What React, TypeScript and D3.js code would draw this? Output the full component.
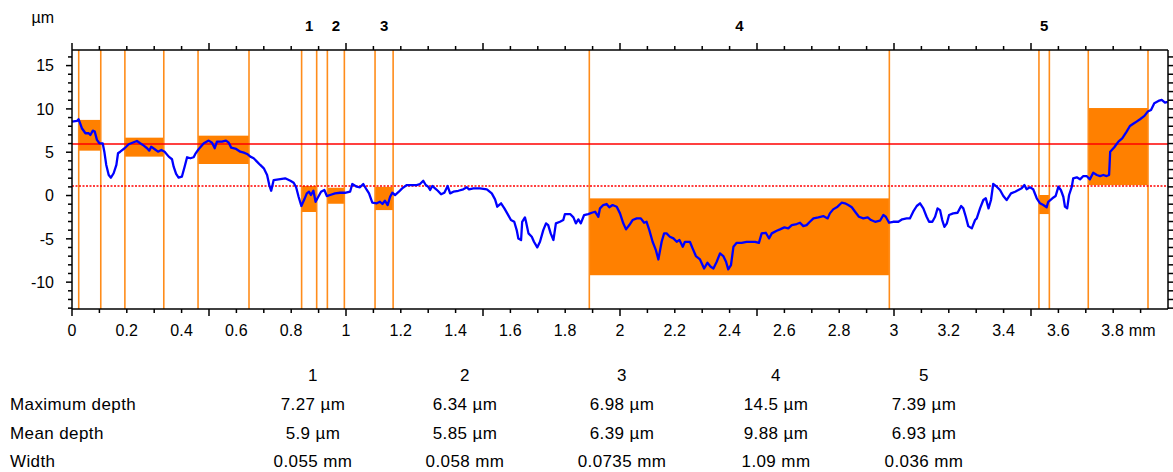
import React, { useEffect, useRef } from 'react';
import * as d3 from 'd3';

// profile: [position (mm), height (µm)]
const profile: [number, number][] = [
  [0,8.53],[0.018,8.61],[0.024,8.81],[0.036,7.77],[0.049,7.19],[0.061,7.19],[0.067,6.99],[0.076,7.49],[0.083,7.38],[0.091,6.42],
  [0.100,6.03],[0.112,6.03],[0.118,5.06],[0.125,3.53],[0.134,2.37],[0.142,2.06],[0.152,2.57],[0.162,3.53],[0.168,4.88],[0.176,5.06],
  [0.192,5.46],[0.207,5.92],[0.225,6.15],[0.237,6.30],[0.249,6.03],[0.262,5.76],[0.274,5.46],[0.282,5.18],[0.289,5.64],[0.302,5.34],
  [0.314,5.06],[0.326,5.26],[0.338,5.06],[0.353,4.49],[0.365,4.19],[0.371,3.33],[0.380,2.49],[0.389,2.06],[0.401,2.17],[0.411,3.33],
  [0.420,4.42],[0.432,4.30],[0.444,4.42],[0.450,4.80],[0.462,5.34],[0.481,6.03],[0.499,6.34],[0.511,6.10],[0.521,5.46],[0.529,6.22],
  [0.547,6.22],[0.562,6.34],[0.572,6.10],[0.581,5.53],[0.599,5.38],[0.614,5.06],[0.627,4.95],[0.639,4.80],[0.651,4.49],[0.663,4.30],
  [0.675,3.91],[0.687,3.53],[0.700,3.14],[0.712,2.37],[0.720,1.21],[0.727,0.55],[0.736,1.79],[0.754,1.87],[0.778,1.99],[0.797,1.71],
  [0.809,1.48],[0.818,0.95],[0.827,-0.14],[0.837,-1.21],[0.848,-0.44],[0.857,0.25],[0.865,0.44],[0.872,0.06],[0.881,0.55],[0.889,-0.72],
  [0.899,-0.14],[0.909,0.44],[0.921,0.64],[0.930,-0.06],[0.942,0.06],[0.960,0.25],[0.978,0.32],[0.996,0.32],[1.015,0.44],[1.023,1.33],
  [1.039,1.02],[1.051,0.95],[1.063,1.33],[1.076,0.64],[1.084,0.25],[1.096,-0.83],[1.112,-0.90],[1.124,-0.72],[1.133,-0.98],[1.142,-0.60],
  [1.152,-1.10],[1.161,-0.14],[1.169,0.32],[1.179,0.06],[1.193,0.44],[1.205,0.83],[1.222,1.21],[1.240,1.21],[1.258,1.21],[1.270,1.33],
  [1.282,1.71],[1.291,1.21],[1.300,1.02],[1.307,0.64],[1.315,1.10],[1.325,0.83],[1.335,0.55],[1.347,0.14],[1.359,0.32],[1.371,1.10],
  [1.380,0.25],[1.392,0.44],[1.410,0.55],[1.428,0.72],[1.441,0.95],[1.449,0.72],[1.465,0.83],[1.489,0.83],[1.514,0.72],[1.532,0.25],
  [1.544,-0.44],[1.552,-1.29],[1.566,-0.90],[1.578,-1.48],[1.590,-2.14],[1.602,-2.83],[1.614,-3.03],[1.623,-3.99],[1.629,-4.95],[1.639,-5.14],
  [1.643,-3.03],[1.653,-2.52],[1.657,-3.03],[1.666,-4.37],[1.678,-4.76],[1.686,-5.34],[1.698,-5.99],[1.708,-5.34],[1.720,-3.99],[1.730,-3.21],
  [1.738,-3.41],[1.747,-4.37],[1.757,-5.14],[1.766,-3.21],[1.781,-3.03],[1.793,-2.83],[1.799,-2.14],[1.818,-2.14],[1.830,-2.52],[1.839,-3.21],
  [1.848,-2.75],[1.857,-3.21],[1.869,-2.25],[1.884,-2.14],[1.897,-1.99],[1.909,-1.87],[1.921,-2.45],[1.927,-1.48],[1.939,-1.10],[1.951,-0.98],
  [1.961,-1.36],[1.973,-1.10],[1.988,-1.29],[2.000,-2.06],[2.012,-3.21],[2.022,-3.91],[2.034,-3.41],[2.046,-2.83],[2.061,-2.64],[2.076,-2.64],
  [2.088,-3.14],[2.097,-3.03],[2.107,-3.99],[2.119,-5.34],[2.131,-6.30],[2.140,-7.38],[2.152,-5.34],[2.161,-4.37],[2.170,-4.37],[2.182,-4.76],
  [2.195,-4.95],[2.207,-5.34],[2.217,-5.14],[2.229,-5.92],[2.237,-5.34],[2.255,-5.34],[2.265,-6.10],[2.277,-6.99],[2.292,-7.38],[2.307,-8.42],
  [2.319,-7.77],[2.331,-8.23],[2.341,-8.42],[2.353,-7.65],[2.365,-6.68],[2.377,-6.99],[2.387,-7.65],[2.395,-8.53],[2.405,-8.03],[2.414,-5.92],
  [2.426,-5.46],[2.444,-5.46],[2.462,-5.34],[2.474,-5.34],[2.493,-5.34],[2.507,-5.46],[2.517,-4.37],[2.532,-4.30],[2.544,-4.95],[2.554,-4.37],
  [2.572,-4.07],[2.584,-3.91],[2.600,-3.68],[2.614,-3.79],[2.627,-3.41],[2.645,-3.29],[2.657,-3.14],[2.669,-3.53],[2.681,-3.41],[2.693,-3.03],
  [2.706,-2.64],[2.724,-2.52],[2.742,-2.37],[2.758,-2.64],[2.766,-2.06],[2.778,-1.60],[2.794,-1.29],[2.809,-0.83],[2.821,-0.90],[2.833,-1.10],
  [2.846,-1.36],[2.858,-1.87],[2.872,-2.45],[2.888,-2.64],[2.904,-2.52],[2.916,-2.83],[2.931,-3.03],[2.949,-2.91],[2.961,-2.25],[2.970,-2.45],
  [2.982,-3.14],[2.997,-3.03],[3.016,-3.03],[3.030,-2.75],[3.046,-2.64],[3.058,-2.64],[3.070,-1.87],[3.083,-1.21],[3.095,-0.90],[3.107,-1.48],
  [3.119,-2.45],[3.128,-3.03],[3.140,-3.03],[3.150,-2.45],[3.159,-1.48],[3.168,-1.68],[3.176,-2.83],[3.184,-3.61],[3.193,-3.21],[3.201,-2.25],
  [3.216,-2.06],[3.232,-1.99],[3.245,-1.21],[3.253,-1.48],[3.262,-2.45],[3.271,-3.53],[3.284,-3.79],[3.296,-2.83],[3.302,-2.64],[3.314,-1.48],
  [3.326,-0.52],[3.335,-0.32],[3.345,-1.48],[3.354,-0.52],[3.362,1.33],[3.375,1.02],[3.387,0.64],[3.399,-0.06],[3.411,-0.52],[3.427,0.25],
  [3.442,0.44],[3.454,0.64],[3.466,0.83],[3.476,1.21],[3.484,0.72],[3.496,0.95],[3.508,0.72],[3.521,-0.32],[3.533,-0.90],[3.545,-1.10],
  [3.557,-1.36],[3.563,-0.72],[3.578,-0.32],[3.590,-0.06],[3.600,1.02],[3.609,0.64],[3.618,-0.14],[3.624,-1.29],[3.632,-1.48],[3.639,0.06],
  [3.649,1.02],[3.654,1.99],[3.667,2.10],[3.679,1.87],[3.691,2.25],[3.703,2.25],[3.715,1.87],[3.727,2.64],[3.740,2.37],[3.752,2.25],
  [3.764,2.37],[3.776,2.25],[3.785,2.37],[3.789,5.06],[3.804,5.57],[3.819,6.22],[3.833,6.61],[3.849,7.38],[3.861,8.03],[3.880,8.42],
  [3.898,8.81],[3.914,9.19],[3.926,9.69],[3.938,9.88],[3.950,10.66],[3.965,10.92],[3.977,11.04],[3.989,10.73],[3.999,10.81]
];

const refLevel = 5.95;     // solid red line
const lowerLevel = 1.1;    // dotted red line

// orange boxes: start/end (mm), top/bottom (µm)
const boxStart = [0.0245, 0.193, 0.46, 0.838, 0.932, 1.106, 1.888, 3.529, 3.709];
const boxEnd = [0.105, 0.335, 0.646, 0.893, 0.994, 1.172, 2.983, 3.567, 3.927];
const boxTop = [8.73, 6.68, 6.91, 1.1, 0.9, 1.0, -0.33, 0.06, 10.1];
const boxBottom = [5.18, 4.49, 3.64, -1.9, -0.95, -1.68, -9.2, -2.14, 1.2];
const boxLabel = ['', '', '', '1', '2', '3', '4', '5', ''];

const tableCols = ['1', '2', '3', '4', '5'];
const rowNames = ['Maximum depth', 'Mean depth', 'Width'];
const maxDepth = ['7.27 µm', '6.34 µm', '6.98 µm', '14.5 µm', '7.39 µm'];
const meanDepth = ['5.9 µm', '5.85 µm', '6.39 µm', '9.88 µm', '6.93 µm'];
const widths = ['0.055 mm', '0.058 mm', '0.0735 mm', '1.09 mm', '0.036 mm'];

const xDomain = [0, 4.0];
const yDomain = [-13.1, 16.8];

export default function App() {
  const chartRef = useRef<SVGSVGElement>(null);

  useEffect(() => {
    const width = 1173, height = 472;
    const margin = { top: 50, right: 5, bottom: 163, left: 72 };
    const font = 'Liberation Sans, Arial, sans-serif';

    const svg = d3.select(chartRef.current);
    svg.selectAll('*').remove();
    svg.attr('width', width).attr('height', height);

    const x = d3.scaleLinear().domain(xDomain).range([margin.left, width - margin.right]);
    const y = d3.scaleLinear().domain(yDomain).range([height - margin.bottom, margin.top]);
    const x0 = margin.left, x1 = width - margin.right;
    const yTop = margin.top, yBot = height - margin.bottom;

    // boxes
    svg.append('g').selectAll('rect')
      .data(boxStart)
      .enter().append('rect')
      .attr('x', d => x(d))
      .attr('y', (d, i) => y(boxTop[i]))
      .attr('width', (d, i) => x(boxEnd[i]) - x(d))
      .attr('height', (d, i) => y(boxBottom[i]) - y(boxTop[i]))
      .attr('fill', '#ff8000');

    // box edges
    svg.append('g').selectAll('line')
      .data(boxStart.concat(boxEnd))
      .enter().append('line')
      .attr('x1', d => x(d)).attr('x2', d => x(d))
      .attr('y1', yTop).attr('y2', yBot)
      .attr('stroke', '#ff8c1a')
      .attr('stroke-width', 1.6);

    // reference lines
    svg.append('line')
      .attr('x1', x0).attr('x2', x1)
      .attr('y1', y(refLevel)).attr('y2', y(refLevel))
      .attr('stroke', '#ff0000').attr('stroke-width', 1.5);
    svg.append('line')
      .attr('x1', x0).attr('x2', x1)
      .attr('y1', y(lowerLevel)).attr('y2', y(lowerLevel))
      .attr('stroke', '#ff0000').attr('stroke-width', 1.5)
      .attr('stroke-dasharray', '2,1.5');

    // profile
    const line = d3.line<[number, number]>().x(d => x(d[0])).y(d => y(d[1]));
    svg.append('path')
      .datum(profile)
      .attr('d', line)
      .attr('fill', 'none')
      .attr('stroke', '#0000ff')
      .attr('stroke-width', 2.3)
      .attr('stroke-linejoin', 'round');

    // frame
    const axis = svg.append('g').attr('stroke', '#000').attr('stroke-width', 1.5);
    axis.append('line').attr('x1', x0).attr('x2', x0).attr('y1', yTop).attr('y2', yBot);
    axis.append('line').attr('x1', x1).attr('x2', x1).attr('y1', yTop).attr('y2', yBot);
    axis.append('line').attr('x1', x0).attr('x2', x1).attr('y1', yTop).attr('y2', yTop);
    axis.append('line').attr('x1', x0).attr('x2', x1).attr('y1', yBot).attr('y2', yBot);

    // x ticks, every 0.1 mm, long ones every 0.5 mm
    const xTicks = d3.range(0, 40).map(i => i / 10);
    const isHalf = (v: number) => Math.abs(v * 2 - Math.round(v * 2)) < 1e-6;
    axis.selectAll('line.xb').data(xTicks).enter().append('line')
      .attr('x1', d => x(d)).attr('x2', d => x(d))
      .attr('y1', yBot).attr('y2', d => yBot + (isHalf(d) ? 7 : 4));
    axis.selectAll('line.xt').data(xTicks).enter().append('line')
      .attr('x1', d => x(d)).attr('x2', d => x(d))
      .attr('y1', yTop).attr('y2', d => yTop - (isHalf(d) ? 7 : 4));

    // y ticks, every 1 µm
    const yTicks = d3.range(-13, 17);
    axis.selectAll('line.yl').data(yTicks).enter().append('line')
      .attr('x1', x0).attr('x2', d => x0 - (d % 5 === 0 ? 6 : 4))
      .attr('y1', d => y(d)).attr('y2', d => y(d));
    axis.selectAll('line.yr').data(yTicks).enter().append('line')
      .attr('x1', x1).attr('x2', x1 + 5)
      .attr('y1', d => y(d)).attr('y2', d => y(d));

    // x labels
    const xLabels = d3.range(0, 20).map(i => +(i * 0.2).toFixed(1));
    svg.append('g').selectAll('text').data(xLabels).enter().append('text')
      .attr('x', d => d === 3.8 ? x(d) - 12 : x(d))
      .attr('y', 336)
      .attr('text-anchor', d => d === 3.8 ? 'start' : 'middle')
      .attr('font-family', font).attr('font-size', 16).attr('letter-spacing', 0.2)
      .text(d => d === 3.8 ? d + ' mm' : String(d));

    // y labels
    svg.append('g').selectAll('text').data(d3.range(-10, 16, 5)).enter().append('text')
      .attr('x', 54).attr('y', d => y(d))
      .attr('dy', '0.36em')
      .attr('text-anchor', 'end')
      .attr('font-family', font).attr('font-size', 16)
      .text(d => String(d));

    svg.append('text')
      .attr('x', 54).attr('y', 23)
      .attr('text-anchor', 'end')
      .attr('font-family', font).attr('font-size', 16)
      .text('µm');

    // box numbers above the plot
    svg.append('g').selectAll('text').data(boxStart).enter().append('text')
      .attr('x', (d, i) => (x(d) + x(boxEnd[i])) / 2)
      .attr('y', 31)
      .attr('text-anchor', 'middle')
      .attr('font-family', font).attr('font-size', 15).attr('font-weight', 'bold')
      .text((d, i) => boxLabel[i]);

    // results table
    const colX = [313, 465, 622, 776, 924];
    const rows = [maxDepth, meanDepth, widths];
    const tbl = svg.append('g').attr('font-family', font).attr('font-size', 17).attr('letter-spacing', 0.4);
    tbl.selectAll('text.h').data(tableCols).enter().append('text')
      .attr('x', (d, i) => colX[i]).attr('y', 381)
      .attr('text-anchor', 'middle').text(d => d);
    rows.forEach((row, r) => {
      const yy = 410 + r * 28.5;
      tbl.append('text').attr('x', 10).attr('y', yy).text(rowNames[r]);
      tbl.selectAll('text.r' + r).data(row).enter().append('text')
        .attr('x', (d, i) => colX[i]).attr('y', yy)
        .attr('text-anchor', 'middle').text(d => d);
    });
  }, []);

  return (
    <svg ref={chartRef} style={{ position: 'absolute', left: 0, top: 0 }} />
  );
}
